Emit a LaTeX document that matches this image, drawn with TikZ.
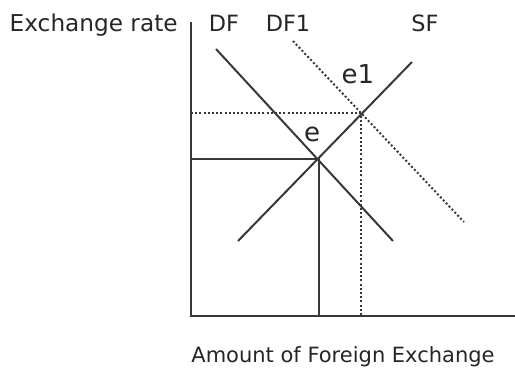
\documentclass[tikz,border=0pt]{standalone}
\usepackage{fontspec}
\setmainfont{DejaVu Sans}
\usetikzlibrary{positioning, calc}

\begin{document}
\begin{tikzpicture}[
    x=0.5pt, y=-0.5pt,
    font=\fontsize{11.2}{13}\selectfont,
    axis/.style={draw=black!78, line width=1pt},
    curve/.style={draw=black!78, line width=1pt},
    shifted/.style={draw=black!78, line width=1pt, dash pattern=on 1pt off 1.1pt},
    guide/.style={draw=black!78, line width=1pt},
    lbl/.style={anchor=base, inner sep=0pt, text=black!85},
    eqlbl/.style={anchor=base, inner sep=0pt, text=black!85, font=\fontsize{13}{15}\selectfont}
]
\useasboundingbox (0,0) rectangle (515,369);
% ---------------- AXES ----------------
\coordinate (origin) at (191,316);
\coordinate (ytop) at (191,22);
\coordinate (xend) at (515,316);
\draw[axis] (ytop) -- (origin) -- (xend);
\node[lbl, anchor=base east, font=\fontsize{11.6}{14}\selectfont] (ylabel) at (178,32) {Exchange rate};
\node[lbl, font=\fontsize{10.5}{13}\selectfont] (xlabel) at (343,363) {Amount of Foreign Exchange};
% ---------------- CURVES ----------------
\coordinate (df0) at (216,49);
\coordinate (df1) at (393,241);
\coordinate (sf0) at (238,241);
\coordinate (sf1) at (412,62);
\coordinate (dfa) at (293,41);
\coordinate (dfb) at (464,222);
\draw[curve] (df0) -- (df1);
\draw[curve] (sf0) -- (sf1);
\draw[shifted] (dfa) -- (dfb);
\node[lbl] (dflabel) at (224,32) {DF};
\node[lbl] (dfonelabel) at (288,32) {DF1};
\node[lbl] (sflabel) at (425,32) {SF};
% ---------------- EQUILIBRIA ----------------
\coordinate (e) at (318.5,159);
\coordinate (eone) at (361,113.5);
\draw[guide] (e -| origin) -- (e) -- (e |- origin);
\draw[shifted] (eone -| origin) -- (eone) -- (eone |- origin);
\node[eqlbl] (elabel) at (312,142) {e};
\node[eqlbl] (eonelabel) at (358,84) {e1};
\end{tikzpicture}
\end{document}
